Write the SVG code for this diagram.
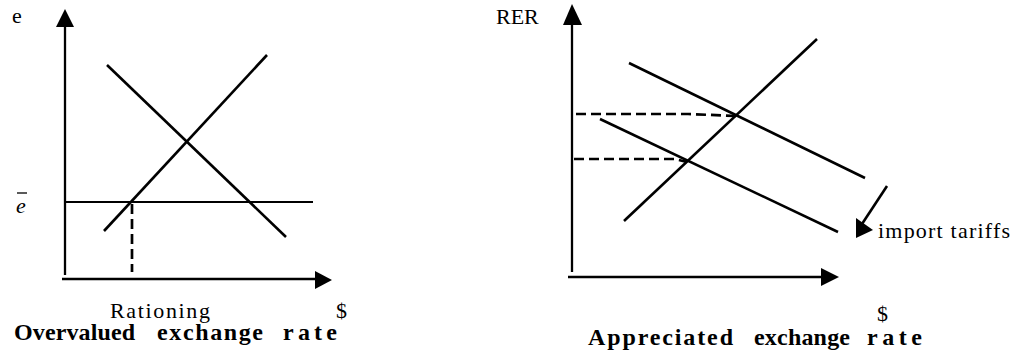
<svg xmlns="http://www.w3.org/2000/svg" width="1016" height="353" viewBox="0 0 1016 353">
<style>
.ln{stroke:#000;stroke-width:2.6;fill:none}
.ax{stroke:#000;stroke-width:2.3;fill:none}
.ds{stroke:#000;stroke-width:2.7;fill:none;stroke-dasharray:10 5}
.hd{fill:#000}
.t{font-family:"Liberation Serif","Times New Roman",serif;font-size:22px;fill:#000}
.b{font-family:"Liberation Serif","Times New Roman",serif;font-size:24px;font-weight:bold;fill:#000}
</style>
<rect width="1016" height="353" fill="#fff"/>
<g id="left-chart">
  <g id="left-axes">
    <line class="ax" x1="65" y1="275" x2="65" y2="24"/>
    <polygon class="hd" points="65,9 56,27 74,27"/>
    <line class="ax" x1="62" y1="279" x2="318" y2="279"/>
    <polygon class="hd" points="332,280 315,271 315,289"/>
  </g>
  <g id="left-curves">
    <line class="ln" x1="107" y1="65" x2="286" y2="237"/>
    <line class="ln" x1="104" y1="231" x2="267" y2="55"/>
    <line class="ax" x1="65" y1="202" x2="313" y2="202" style="stroke-width:1.8"/>
    <line class="ds" x1="132" y1="204" x2="132" y2="272"/>
  </g>
  <g id="left-labels">
    <text class="t" x="12" y="23">e</text>
    <text class="t" x="16" y="213" font-style="italic">e</text>
    <line x1="17" y1="193" x2="27" y2="193" stroke="#000" stroke-width="1.3"/>
    <text class="t" x="110" y="318" font-size="23" textLength="100" lengthAdjust="spacing">Rationing</text>
    <text class="t" x="336" y="318">$</text>
    <text class="b" x="14" y="340" textLength="121" lengthAdjust="spacing">Overvalued</text>
    <text class="b" x="157" y="340" textLength="106" lengthAdjust="spacing">exchange</text>
    <text class="b" x="283" y="340" textLength="54" lengthAdjust="spacing">rate</text>
  </g>
</g>
<g id="right-chart">
  <g id="right-axes">
    <line class="ax" x1="572" y1="272" x2="572" y2="20"/>
    <polygon class="hd" points="572,4 563,25 582,25"/>
    <line class="ax" x1="568" y1="277" x2="824" y2="277"/>
    <polygon class="hd" points="839,277 821,268 821,286"/>
  </g>
  <g id="right-curves">
    <line class="ln" x1="624" y1="221" x2="817" y2="39"/>
    <line class="ln" x1="629" y1="63" x2="865" y2="178"/>
    <line class="ln" x1="600" y1="119" x2="838" y2="232"/>
    <polyline class="ds" points="576,114 688,114 736,116"/>
    <polyline class="ds" points="574,159 675,159 687,162"/>
  </g>
  <g id="tariff-arrow">
    <line class="ln" x1="887" y1="186" x2="862" y2="224"/>
    <polygon class="hd" points="856,218 856,238 873,230"/>
  </g>
  <g id="right-labels">
    <text class="t" x="496" y="24" font-size="21">RER</text>
    <text class="t" x="878" y="238" textLength="132" lengthAdjust="spacing">import  tariffs</text>
    <text class="t" x="877" y="321">$</text>
    <text class="b" x="588" y="345" textLength="145" lengthAdjust="spacing">Appreciated</text>
    <text class="b" x="754" y="345" textLength="96" lengthAdjust="spacing">exchange</text>
    <text class="b" x="867" y="345" textLength="55" lengthAdjust="spacing">rate</text>
  </g>
</g>
</svg>
